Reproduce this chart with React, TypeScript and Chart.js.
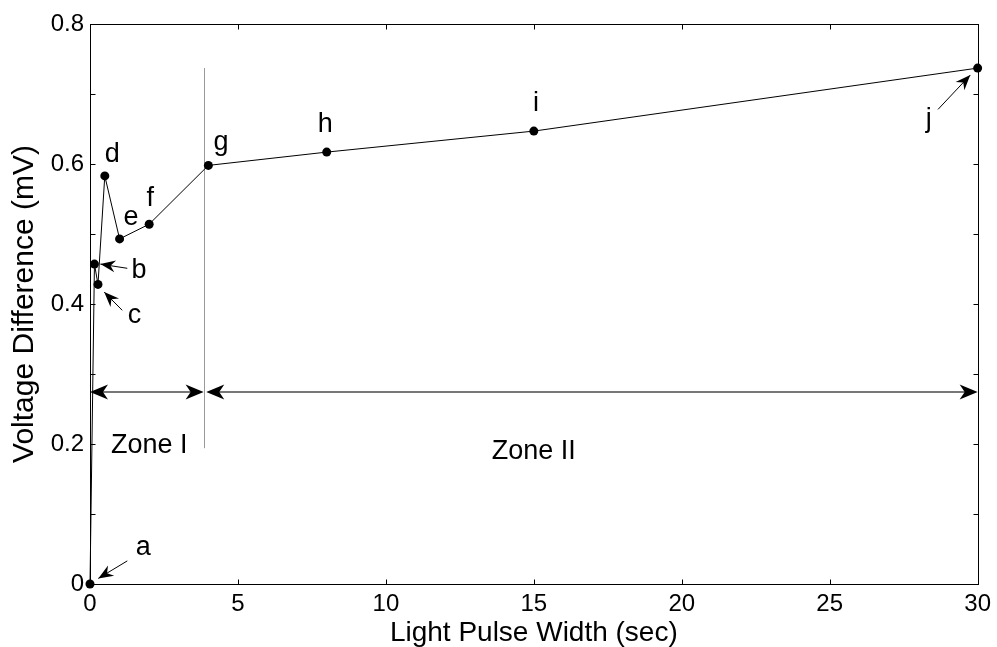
import React, { useEffect, useRef } from 'react';
import { Chart, registerables } from 'chart.js';

Chart.register(...registerables);

const FONT = '"Liberation Sans", Arial, Helvetica, sans-serif';

// ---- data ----
const xValues = [0, 0.15, 0.27, 0.5, 1, 2, 4, 8, 15, 30];
const yValues = [0, 0.457, 0.428, 0.583, 0.493, 0.514, 0.598, 0.617, 0.647, 0.737];
const pointLetters = ['a', 'b', 'c', 'd', 'e', 'f', 'g', 'h', 'i', 'j'];
const letterX = [1.8, 1.66, 1.5, 0.75, 1.39, 2.04, 4.43, 7.95, 15.07, 28.35];
const letterY = [0.052, 0.448, 0.384, 0.613, 0.524, 0.551, 0.63, 0.657, 0.687, 0.663];

// pointer arrows: tail -> tip (data coords)
const pointerTailX = [1.26, 1.26, 1.09, 28.66];
const pointerTailY = [0.033, 0.451, 0.391, 0.678];
const pointerTipX = [0.28, 0.35, 0.48, 29.75];
const pointerTipY = [0.008, 0.457, 0.417, 0.727];

// zones
const zoneNames = ['Zone I', 'Zone II'];
const zoneStart = [0, 3.93];
const zoneEnd = [3.84, 30];
const zoneArrowY = 0.275;
const zoneLabelX = [2.0, 15.0];
const zoneLabelY = [0.198, 0.189];
const dividerX = 3.84;
const dividerY = [0.194, 0.737];

// axes
const xTicks = [0, 5, 10, 15, 20, 25, 30];
const xTickLabels = ['0', '5', '10', '15', '20', '25', '30'];
const yTicks = [0, 0.1, 0.2, 0.3, 0.4, 0.5, 0.6, 0.7, 0.8];
const yTickLabels = ['0', '', '0.2', '', '0.4', '', '0.6', '', '0.8'];
const xTitle = 'Light Pulse Width (sec)';
const yTitle = 'Voltage Difference (mV)';

function drawHead(ctx: CanvasRenderingContext2D, x1: number, y1: number, x2: number, y2: number, len: number, half: number, indent: number) {
  const a = Math.atan2(y2 - y1, x2 - x1);
  const c = Math.cos(a), s = Math.sin(a);
  const pt = (along: number, perp: number) => [x2 + along * c - perp * s, y2 + along * s + perp * c];
  const p1 = pt(-len, half);
  const p2 = pt(-len * indent, 0);
  const p3 = pt(-len, -half);
  ctx.beginPath();
  ctx.moveTo(x2, y2);
  ctx.lineTo(p1[0], p1[1]);
  ctx.lineTo(p2[0], p2[1]);
  ctx.lineTo(p3[0], p3[1]);
  ctx.closePath();
  ctx.fillStyle = '#000';
  ctx.fill();
}

const boxPlugin = {
  id: 'boxTicks',
  beforeDatasetsDraw(chart: any) {
    const { ctx, scales } = chart;
    const xs = scales.x, ys = scales.y;
    ctx.save();
    // divider
    const dx = Math.round(xs.getPixelForValue(dividerX)) + 0.5;
    ctx.strokeStyle = '#999';
    ctx.lineWidth = 1;
    ctx.beginPath();
    ctx.moveTo(dx, ys.getPixelForValue(dividerY[0]));
    ctx.lineTo(dx, ys.getPixelForValue(dividerY[1]));
    ctx.stroke();
    // zone arrows
    const ay = Math.round(ys.getPixelForValue(zoneArrowY));
    for (let i = 0; i < zoneNames.length; i++) {
      const xa = xs.getPixelForValue(zoneStart[i]);
      const xb = xs.getPixelForValue(zoneEnd[i]);
      ctx.strokeStyle = '#777';
      ctx.lineWidth = 2;
      ctx.beginPath();
      ctx.moveTo(xa + 10, ay);
      ctx.lineTo(xb - 10, ay);
      ctx.stroke();
      drawHead(ctx, xb - 30, ay, xb, ay, 18, 7.5, 0.72);
      drawHead(ctx, xa + 30, ay, xa, ay, 18, 7.5, 0.72);
    }
    ctx.restore();
  },
  afterDraw(chart: any) {
    const { ctx, chartArea, scales } = chart;
    const xs = scales.x, ys = scales.y;
    const { left, right, top, bottom } = chartArea;
    ctx.save();
    ctx.strokeStyle = '#000';
    ctx.lineWidth = 1;
    const L = Math.round(left) + 0.5, R = Math.round(right) + 0.5;
    const T = Math.round(top) + 0.5, B = Math.round(bottom) + 0.5;
    ctx.strokeRect(L, T, R - L, B - T);
    ctx.beginPath();
    xTicks.forEach((v) => {
      const px = Math.round(xs.getPixelForValue(v)) + 0.5;
      ctx.moveTo(px, B); ctx.lineTo(px, B - 5);
      ctx.moveTo(px, T); ctx.lineTo(px, T + 5);
    });
    yTicks.forEach((v) => {
      const py = Math.round(ys.getPixelForValue(v)) + 0.5;
      ctx.moveTo(L, py); ctx.lineTo(L + 5, py);
      ctx.moveTo(R, py); ctx.lineTo(R - 5, py);
    });
    ctx.stroke();

    // pointer arrows
    for (let i = 0; i < pointerTailX.length; i++) {
      const x1 = xs.getPixelForValue(pointerTailX[i]);
      const y1 = ys.getPixelForValue(pointerTailY[i]);
      const x2 = xs.getPixelForValue(pointerTipX[i]);
      const y2 = ys.getPixelForValue(pointerTipY[i]);
      ctx.strokeStyle = '#000';
      ctx.lineWidth = 1;
      ctx.beginPath();
      ctx.moveTo(x1, y1);
      ctx.lineTo(x2, y2);
      ctx.stroke();
      drawHead(ctx, x1, y1, x2, y2, 15, 6, 0.68);
    }

    // letters & zone labels
    ctx.fillStyle = '#000';
    ctx.textAlign = 'center';
    ctx.textBaseline = 'middle';
    ctx.font = `27px ${FONT}`;
    pointLetters.forEach((t, i) => {
      ctx.fillText(t, xs.getPixelForValue(letterX[i]), ys.getPixelForValue(letterY[i]));
    });
    zoneNames.forEach((t, i) => {
      ctx.fillText(t, xs.getPixelForValue(zoneLabelX[i]), ys.getPixelForValue(zoneLabelY[i]));
    });
    ctx.restore();
  },
};

export default function App() {
  const ref = useRef<HTMLCanvasElement | null>(null);
  useEffect(() => {
    if (!ref.current) return;
    const chart = new Chart(ref.current, {
      type: 'line',
      data: {
        datasets: [
          {
            data: xValues.map((x, i) => ({ x, y: yValues[i] })),
            borderColor: '#000',
            borderWidth: 1,
            backgroundColor: '#000',
            pointRadius: 4.5,
            pointBackgroundColor: '#000',
            pointBorderWidth: 0,
            pointHoverRadius: 4.5,
            tension: 0,
            clip: false as any,
            fill: false,
          },
        ],
      },
      options: {
        animation: false,
        responsive: true,
        maintainAspectRatio: false,
        events: [],
        layout: { padding: { top: 24, right: 18, left: 0, bottom: 0 } },
        plugins: { legend: { display: false }, tooltip: { enabled: false } },
        scales: {
          x: {
            type: 'linear',
            min: 0,
            max: 30,
            grid: { display: false, drawTicks: false },
            border: { display: false },
            afterBuildTicks: (axis: any) => {
              axis.ticks = xTicks.map((v) => ({ value: v }));
            },
            afterFit: (axis: any) => {
              axis.height = 63;
            },
            ticks: {
              autoSkip: false,
              maxRotation: 0,
              padding: 6,
              color: '#000',
              font: { family: FONT, size: 24 },
              callback: (_v: any, i: number) => xTickLabels[i],
            },
            title: {
              display: true,
              text: xTitle,
              color: '#000',
              font: { family: FONT, size: 28, lineHeight: 1 },
              padding: { top: 0, bottom: 0 },
            },
          },
          y: {
            type: 'linear',
            min: 0,
            max: 0.8,
            grid: { display: false, drawTicks: false },
            border: { display: false },
            afterBuildTicks: (axis: any) => {
              axis.ticks = yTicks.map((v) => ({ value: v }));
            },
            afterFit: (axis: any) => {
              axis.width = 90;
            },
            ticks: {
              autoSkip: false,
              padding: 6,
              color: '#000',
              font: { family: FONT, size: 24 },
              callback: (_v: any, i: number) => yTickLabels[i],
            },
            title: {
              display: true,
              text: yTitle,
              color: '#000',
              font: { family: FONT, size: 30, lineHeight: 1 },
              padding: { top: 10, bottom: 0 },
            },
          },
        },
      },
      plugins: [boxPlugin],
    } as any);
    return () => chart.destroy();
  }, []);
  return (
    <div style={{ position: 'fixed', left: 0, top: 0, width: 997, height: 647, background: '#fff' }}>
      <canvas ref={ref} />
    </div>
  );
}
